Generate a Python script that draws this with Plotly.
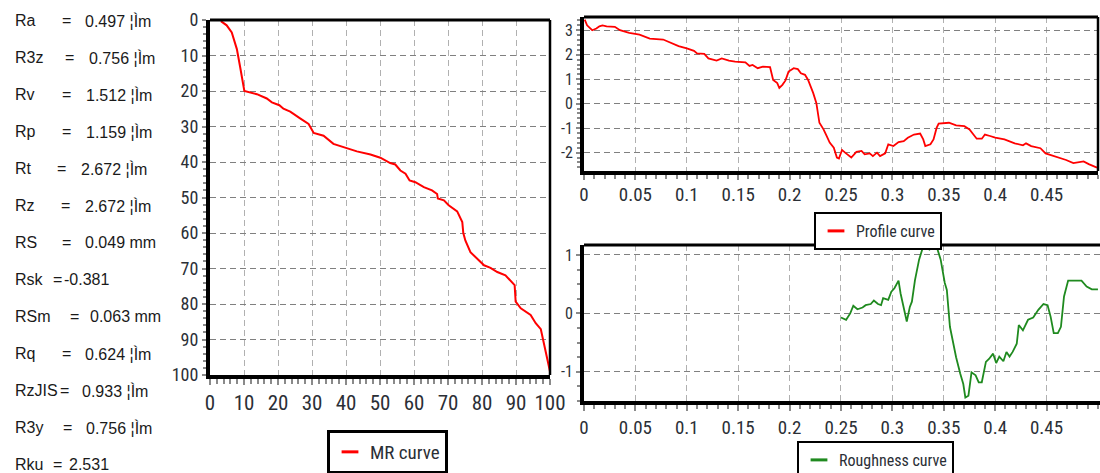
import plotly.graph_objects as go

W, H = 1100, 473

# ---------------- data ----------------
mr_x = [3.2, 4.9, 6.4, 7.9, 8.8, 9.5, 10.1, 13.8, 16.7, 18.2, 20.4, 21.6, 23.6, 26.5, 29.0, 30.5,
        33.4, 36.3, 39.3, 43.2, 47.2, 50.1, 53.0, 54.5, 56.0, 57.5, 58.7, 60.4, 62.9, 65.3, 66.8,
        67.0, 68.8, 70.2, 72.7, 74.2, 74.5, 75.1, 76.6, 78.6, 80.6, 82.5, 84.5, 86.9, 88.4, 89.6,
        89.9, 91.4, 94.3, 95.8, 97.3, 98.2, 99.2, 100.0]
mr_y = [0.3, 1.5, 3.5, 8.2, 12.9, 16.6, 20.0, 20.9, 22.1, 23.2, 24.0, 25.0, 25.8, 27.7, 29.3, 31.8,
        32.6, 34.9, 35.8, 37.0, 37.9, 38.8, 40.3, 40.7, 42.4, 43.3, 45.2, 45.7, 47.1, 48.0, 49.0,
        50.3, 50.8, 52.2, 53.9, 56.9, 60.0, 62.1, 65.4, 67.3, 69.1, 69.8, 71.0, 71.9, 73.3, 74.7,
        79.3, 81.2, 83.1, 85.4, 87.1, 91.0, 95.8, 99.0]

prof_x = [0.0007, 0.003, 0.008, 0.012, 0.015, 0.018, 0.022, 0.030, 0.035, 0.044, 0.054, 0.064,
          0.077, 0.084, 0.092, 0.100, 0.107, 0.110, 0.117, 0.121, 0.129, 0.134, 0.141, 0.147,
          0.157, 0.161, 0.164, 0.169, 0.174, 0.181, 0.184, 0.188, 0.190, 0.193, 0.196, 0.199,
          0.204, 0.208, 0.211, 0.215, 0.218, 0.223, 0.226, 0.229, 0.233, 0.236, 0.239, 0.243,
          0.246, 0.248, 0.251, 0.254, 0.260, 0.265, 0.270, 0.273, 0.278, 0.281, 0.285, 0.288,
          0.293, 0.296, 0.301, 0.306, 0.311, 0.315, 0.321, 0.327, 0.330, 0.332, 0.337, 0.340,
          0.343, 0.345, 0.355, 0.362, 0.370, 0.375, 0.382, 0.387, 0.390, 0.395, 0.400, 0.409,
          0.419, 0.427, 0.430, 0.435, 0.444, 0.449, 0.459, 0.469, 0.476, 0.479, 0.486, 0.491, 0.499]
prof_y = [3.43, 3.20, 3.00, 3.07, 3.16, 3.20, 3.16, 3.14, 3.00, 2.89, 2.82, 2.66,
          2.62, 2.49, 2.35, 2.26, 2.16, 2.05, 2.03, 1.85, 1.76, 1.85, 1.76, 1.72,
          1.69, 1.54, 1.58, 1.45, 1.51, 1.49, 0.97, 0.84, 0.64, 0.77, 0.95, 1.31,
          1.45, 1.41, 1.24, 1.18, 0.97, 0.43, 0.03, -0.78, -1.05, -1.32, -1.59, -1.80,
          -2.20, -2.24, -1.89, -2.00, -2.20, -1.97, -1.93, -2.07, -2.03, -2.14, -2.00, -2.14,
          -2.03, -1.66, -1.73, -1.57, -1.53, -1.39, -1.26, -1.22, -1.46, -1.73, -1.66, -1.46,
          -0.99, -0.81, -0.78, -0.89, -0.92, -1.05, -1.43, -1.43, -1.26, -1.32, -1.39, -1.46,
          -1.62, -1.70, -1.62, -1.73, -1.82, -2.03, -2.16, -2.30, -2.43, -2.41, -2.36, -2.47, -2.61]

rough_x = [0.250, 0.252, 0.255, 0.259, 0.262, 0.266, 0.271, 0.274, 0.279, 0.282, 0.286, 0.289,
           0.291, 0.296, 0.299, 0.302, 0.306, 0.308, 0.311, 0.314, 0.317, 0.319, 0.322, 0.326,
           0.329, 0.332, 0.336, 0.339, 0.342, 0.344, 0.347, 0.351, 0.353, 0.356, 0.359, 0.362,
           0.366, 0.369, 0.371, 0.374, 0.377, 0.381, 0.384, 0.387, 0.391, 0.394, 0.398, 0.401,
           0.404, 0.408, 0.411, 0.414, 0.417, 0.421, 0.423, 0.427, 0.432, 0.437, 0.442, 0.447,
           0.451, 0.454, 0.457, 0.461, 0.464, 0.467, 0.471, 0.484, 0.489, 0.494, 0.500]
rough_y = [-0.07, -0.09, -0.11, 0.00, 0.13, 0.07, 0.10, 0.14, 0.16, 0.22, 0.16, 0.14,
           0.26, 0.23, 0.37, 0.43, 0.56, 0.34, 0.11, -0.14, 0.11, 0.20, 0.57, 0.92,
           1.09, 1.15, 1.09, 1.12, 1.16, 1.09, 0.92, 0.52, 0.40, -0.23, -0.52, -0.75,
           -1.03, -1.21, -1.44, -1.41, -1.01, -1.06, -1.18, -1.18, -0.83, -0.78, -0.69, -0.85,
           -0.74, -0.82, -0.66, -0.74, -0.66, -0.52, -0.20, -0.29, -0.11, -0.07, 0.06, 0.16,
           0.14, -0.06, -0.34, -0.34, -0.23, 0.29, 0.56, 0.56, 0.46, 0.41, 0.41]

param_names = ["Ra", "R3z", "Rv", "Rp", "Rt", "Rz", "RS", "Rsk", "RSm", "Rq", "RzJIS", "R3y", "Rku"]
param_values = ["0.497 ¦Ìm", "0.756 ¦Ìm", "1.512 ¦Ìm", "1.159 ¦Ìm", "2.672 ¦Ìm", "2.672 ¦Ìm",
                "0.049 mm", "-0.381", "0.063 mm", "0.624 ¦Ìm", "0.933 ¦Ìm", "0.756 ¦Ìm", "2.531"]

mr_ticks = [0, 10, 20, 30, 40, 50, 60, 70, 80, 90, 100]
mr_ticktext = ["0", "10", "20", "30", "40", "50", "60", "70", "80", "90", "100"]
pos_ticks = [0, 0.05, 0.1, 0.15, 0.2, 0.25, 0.3, 0.35, 0.4, 0.45]
pos_ticktext = ["0", "0.05", "0.1", "0.15", "0.2", "0.25", "0.3", "0.35", "0.4", "0.45"]
prof_yticks = [-2, -1, 0, 1, 2, 3]
prof_yticktext = ["-2", "-1", "0", "1", "2", "3"]
rough_yticks = [-1, 0, 1]
rough_yticktext = ["-1", "0", "1"]

# ---------------- style ----------------
NARROW = "Liberation Sans Narrow, Arial Narrow, Roboto Condensed, Roboto, Liberation Sans, sans-serif"
SANS = "Liberation Sans, Arial, sans-serif"
TICKCOL = "#2b2f36"
HGRID = "#808080"
VGRID = "#b0b0b0"
DASH = "6px,4px"


def px(x):
    return x / W


def py(y):
    return 1 - y / H


fig = go.Figure()

fig.add_trace(go.Scatter(x=mr_x, y=mr_y, mode="lines", line=dict(color="#ff0000", width=2),
                         xaxis="x", yaxis="y", showlegend=False, name="MR curve"))
fig.add_trace(go.Scatter(x=prof_x, y=prof_y, mode="lines", line=dict(color="#ff0000", width=1.8),
                         xaxis="x2", yaxis="y2", showlegend=False, name="Profile curve"))
fig.add_trace(go.Scatter(x=rough_x, y=rough_y, mode="lines", line=dict(color="#1f8a1f", width=1.8),
                         xaxis="x3", yaxis="y3", showlegend=False, name="Roughness curve"))

# legend entries (short line symbols like the original)
for name, col, lg, ax in [("MR curve", "#ff0000", "legend", ("x", "y")),
                          ("Profile curve", "#ff0000", "legend2", ("x2", "y2")),
                          ("Roughness curve", "#1f8a1f", "legend3", ("x3", "y3"))]:
    fig.add_trace(go.Scatter(x=[None], y=[None], mode="markers", name=name, legend=lg,
                             xaxis=ax[0], yaxis=ax[1],
                             marker=dict(symbol="line-ew", size=12, line=dict(color=col, width=3))))


def axis_common(**kw):
    d = dict(showgrid=True, griddash=DASH, gridwidth=1, zeroline=False, automargin=False,
             showline=True, linecolor="black", linewidth=4,
             ticks="outside", tickcolor="#8a8a8a", tickwidth=2,
             tickfont=dict(family=NARROW, color=TICKCOL), fixedrange=True)
    d.update(kw)
    return d


fig.update_layout(
    width=W, height=H, margin=dict(l=0, r=0, t=0, b=0, autoexpand=False),
    paper_bgcolor="white", plot_bgcolor="white",
    xaxis=axis_common(domain=[px(210), px(550)], range=[0, 100], anchor="y",
                      tickmode="array", tickvals=mr_ticks, ticktext=mr_ticktext,
                      gridcolor=VGRID, ticklen=6, ticklabelstandoff=0,
                      tickfont=dict(family=NARROW, color=TICKCOL, size=21),
                      minor=dict(dtick=2, tick0=0, ticks="outside", ticklen=5, tickcolor="#8a8a8a",
                                 tickwidth=2, showgrid=False)),
    yaxis=axis_common(domain=[py(375), py(20)], range=[100, 0], anchor="x",
                      tickmode="array", tickvals=mr_ticks, ticktext=mr_ticktext,
                      gridcolor=HGRID, ticklen=4,
                      tickfont=dict(family=NARROW, color=TICKCOL, size=18),
                      minor=dict(dtick=2, tick0=0, ticks="outside", ticklen=3, tickcolor="#8a8a8a",
                                 tickwidth=2, showgrid=False)),
    xaxis2=axis_common(domain=[px(584), px(1098)], range=[0, 0.5], anchor="y2",
                       tickmode="array", tickvals=pos_ticks, ticktext=pos_ticktext,
                       gridcolor=VGRID, ticklen=5, ticklabelstandoff=-2,
                       tickfont=dict(family=NARROW, color=TICKCOL, size=19),
                       minor=dict(dtick=0.01, tick0=0, ticks="outside", ticklen=4, tickcolor="#8a8a8a",
                                  tickwidth=2, showgrid=False)),
    yaxis2=axis_common(domain=[py(171), py(17)], range=[-2.75, 3.54], anchor="x2",
                       tickmode="array", tickvals=prof_yticks, ticktext=prof_yticktext,
                       gridcolor=HGRID, ticklen=4,
                       tickfont=dict(family=NARROW, color=TICKCOL, size=16),
                       minor=dict(dtick=0.2, tick0=0, ticks="outside", ticklen=3, tickcolor="#8a8a8a",
                                  tickwidth=2, showgrid=False)),
    xaxis3=axis_common(domain=[px(584), 1.0], range=[0, 0.502], anchor="y3",
                       tickmode="array", tickvals=pos_ticks, ticktext=pos_ticktext,
                       gridcolor=VGRID, ticklen=6, ticklabelstandoff=0,
                       tickfont=dict(family=NARROW, color=TICKCOL, size=19),
                       minor=dict(dtick=0.01, tick0=0, ticks="outside", ticklen=4, tickcolor="#8a8a8a",
                                  tickwidth=2, showgrid=False)),
    yaxis3=axis_common(domain=[py(401), py(245)], range=[-1.5, 1.17], anchor="x3",
                       tickmode="array", tickvals=rough_yticks, ticktext=rough_yticktext,
                       gridcolor=HGRID, ticklen=4,
                       tickfont=dict(family=NARROW, color=TICKCOL, size=16),
                       minor=dict(dtick=0.25, tick0=0, ticks="outside", ticklen=3, tickcolor="#8a8a8a",
                                  tickwidth=2, showgrid=False)),
    legend=dict(x=px(327), y=py(430), xanchor="left", yanchor="top", bgcolor="white",
                bordercolor="black", borderwidth=3, itemwidth=30,
                font=dict(family=NARROW, size=19, color=TICKCOL)),
    legend2=dict(x=px(814), y=py(212), xanchor="left", yanchor="top", bgcolor="white",
                 bordercolor="black", borderwidth=2, itemwidth=30,
                 font=dict(family=NARROW, size=16, color=TICKCOL)),
    legend3=dict(x=px(797), y=py(441), xanchor="left", yanchor="top", bgcolor="white",
                 bordercolor="black", borderwidth=2, itemwidth=30,
                 font=dict(family=NARROW, size=16, color=TICKCOL)),
)

# top / right frame lines
shapes = []
for (x0, x1, y0, y1, right) in [(210, 550, 20, 375, True), (584, 1098, 17, 171, True),
                                (584, 1100, 245, 401, False)]:
    shapes.append(dict(type="line", xref="paper", yref="paper", x0=px(x0), x1=px(x1),
                       y0=py(y0), y1=py(y0), line=dict(color="black", width=3), layer="above"))
    if right:
        shapes.append(dict(type="line", xref="paper", yref="paper", x0=px(x1), x1=px(x1),
                           y0=py(y0), y1=py(y1), line=dict(color="black", width=2.5), layer="above"))
fig.update_layout(shapes=shapes)

# parameter panel
eq_px = [60, 63, 60, 60, 55, 59, 60, 51, 68, 60, 58, 61, 51]
val_px = [83, 87, 84, 84, 79, 83, 83, 62, 88, 83, 80, 84, 67]
ann = []
for i, (nm, val) in enumerate(zip(param_names, param_values)):
    yy = py(20.7 + 37.0 * i)
    common = dict(xref="paper", yref="paper", y=yy, yanchor="middle", xanchor="left",
                  showarrow=False, font=dict(family=SANS, size=16, color="#1a1a1a"))
    ann.append(dict(x=px(13), text=nm, **common))
    ann.append(dict(x=px(eq_px[i]), text="=", **common))
    ann.append(dict(x=px(val_px[i]), text=val, **common))
fig.update_layout(annotations=ann)

fig.write_html("out.html")
